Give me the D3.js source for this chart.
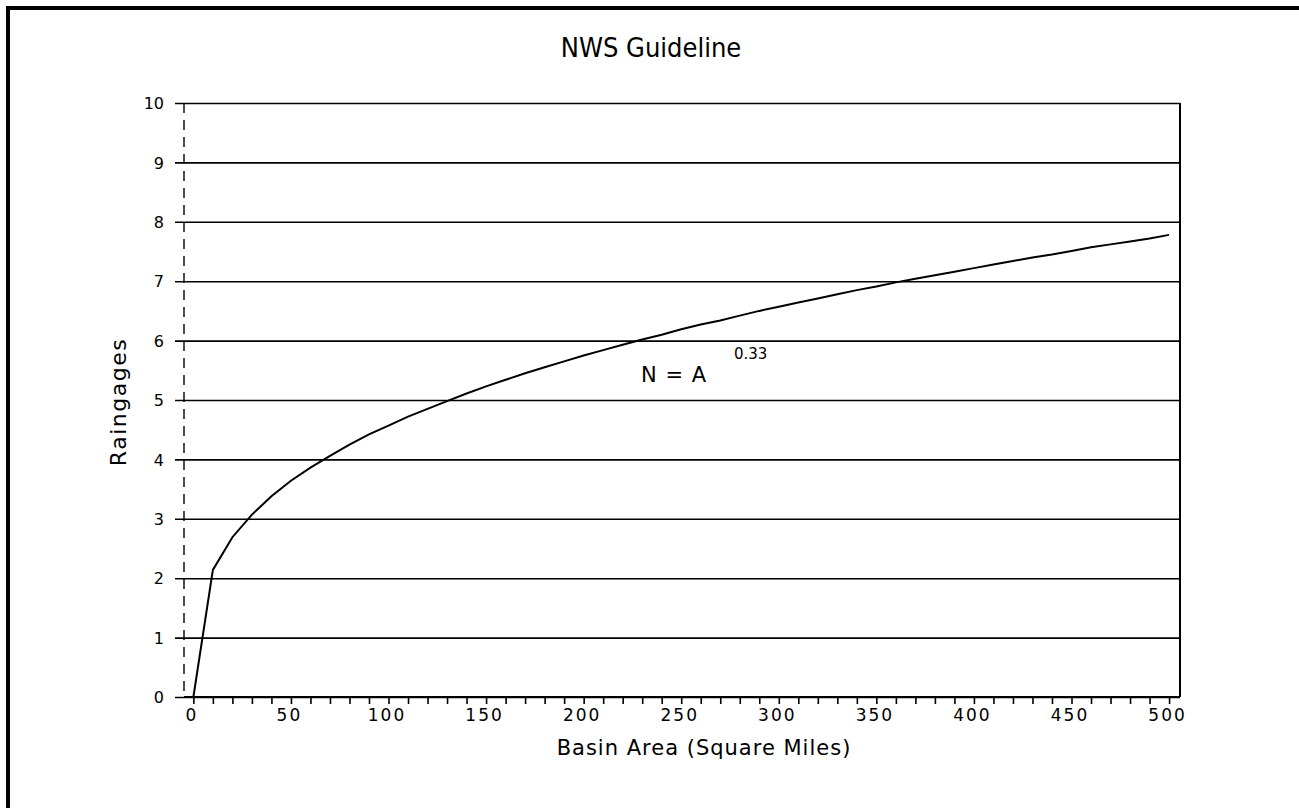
<!DOCTYPE html>
<html><head><meta charset="utf-8">
<script src="https://cdn.jsdelivr.net/npm/d3@7"></script>
<style>
html,body{margin:0;padding:0;background:#fff;}
svg{display:block;}
text{fill:#000;}
</style></head>
<body>
<svg id="chart" width="1299" height="808"></svg>
<script>
const title = "NWS Guideline";
const xLabel = "Basin Area (Square Miles)";
const yLabel = "Raingages";
const xTicks = [0,50,100,150,200,250,300,350,400,450,500];
const yTicks = [0,1,2,3,4,5,6,7,8,9,10];
const area = [0,10,20,30,40,50,60,70,80,90,100,110,120,130,140,150,160,170,180,190,200,
  210,220,230,240,250,260,270,280,290,300,310,320,330,340,350,360,370,380,390,400,
  410,420,430,440,450,460,470,480,490,500];
const gages = [0,2.14,2.69,3.07,3.38,3.64,3.86,4.06,4.25,4.42,4.57,4.72,4.85,4.98,5.11,5.23,5.34,5.45,5.55,5.65,5.75,
  5.84,5.93,6.02,6.10,6.19,6.27,6.34,6.42,6.50,6.57,6.64,6.71,6.78,6.85,6.91,6.98,7.04,7.10,7.16,7.22,
  7.28,7.34,7.40,7.45,7.51,7.57,7.62,7.67,7.72,7.78];

const svg = d3.select("#chart");
// outer frame (top and left)
svg.append("line").attr("x1",6).attr("x2",1299).attr("y1",8).attr("y2",8).attr("stroke","#000").attr("stroke-width",4);
svg.append("line").attr("x1",8).attr("x2",8).attr("y1",6).attr("y2",808).attr("stroke","#000").attr("stroke-width",4);

const L = 184, R = 1180, T = 103, B = 697;
const x = d3.scaleLinear().domain([-4.8, 505.6]).range([L, R]);
const y = d3.scaleLinear().domain([0, 10]).range([B, T]);

// gridlines with ticks to left
const yAxis = d3.axisLeft(y).tickValues(yTicks).tickSize(-(R - L)).tickSizeOuter(0).tickPadding(12);
const gy = svg.append("g").attr("transform",`translate(${L},0)`).call(yAxis);
gy.select(".domain").remove();
gy.selectAll(".tick line").attr("stroke","#000").attr("stroke-width",1.6).attr("x1",-9);
gy.selectAll(".tick text").attr("font-family","DejaVu Sans").attr("font-size",16).attr("x",-20).attr("dy","0.35em");

// left axis dashed
svg.append("line").attr("x1",L).attr("x2",L).attr("y1",T).attr("y2",B)
  .attr("stroke","#000").attr("stroke-width",1.4).attr("stroke-dasharray","10,7");
// right edge
svg.append("line").attr("x1",R).attr("x2",R).attr("y1",T).attr("y2",B)
  .attr("stroke","#000").attr("stroke-width",2);

// x axis
const xAxis = d3.axisBottom(x).tickValues(d3.range(0,501,10)).tickSize(7).tickSizeOuter(0)
  .tickFormat(d => xTicks.includes(d) ? d : "");
const gx = svg.append("g").attr("transform",`translate(0,${B})`).call(xAxis);
gx.select(".domain").attr("d",`M${L},0H${R}`).attr("stroke","#000").attr("stroke-width",2);
gx.selectAll(".tick line").attr("stroke","#000").attr("stroke-width",1.6);
gx.selectAll(".tick text").attr("font-family","DejaVu Sans").attr("font-size",17)
  .attr("letter-spacing","2px").attr("y",12).attr("dx","-2");

// curve
const line = d3.line().x((d,i)=>x(area[i])).y((d,i)=>y(gages[i]));
svg.append("path").datum(gages).attr("d",line).attr("fill","none")
  .attr("stroke","#000").attr("stroke-width",2);

// annotation
svg.append("text").attr("x",641).attr("y",382).attr("font-family","DejaVu Sans").attr("font-size",21)
  .attr("letter-spacing","1px").text("N = A");
svg.append("text").attr("x",734).attr("y",359).attr("font-family","DejaVu Sans").attr("font-size",15).text("0.33");

// titles
svg.append("text").attr("x",651).attr("y",57).attr("text-anchor","middle")
  .attr("font-family","DejaVu Sans Condensed").attr("font-stretch","condensed").attr("font-size",27).text(title);
svg.append("text").attr("x",704).attr("y",755).attr("text-anchor","middle")
  .attr("font-family","DejaVu Sans").attr("font-size",21).attr("letter-spacing","1px").text(xLabel);
svg.append("text").attr("transform","translate(126,402) rotate(-90)").attr("text-anchor","middle")
  .attr("font-family","DejaVu Sans").attr("font-size",22).attr("letter-spacing","1.5px").text(yLabel);
</script>
</body></html>
